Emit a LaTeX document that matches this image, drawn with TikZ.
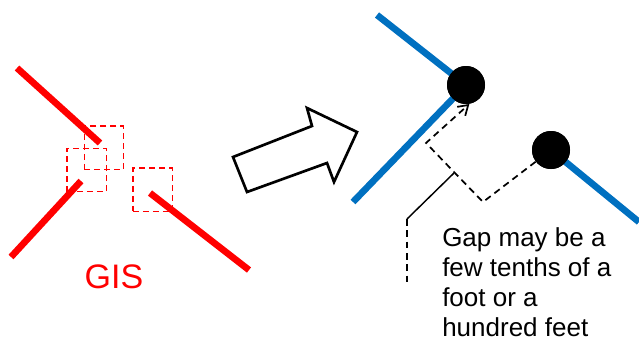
\documentclass[tikz,border=0pt]{standalone}
\usepackage{fontspec}
\setmainfont{Liberation Sans}
\usetikzlibrary{arrows.meta}
\definecolor{gisred}{RGB}{255,0,0}
\definecolor{netblue}{RGB}{0,112,192}

\begin{document}
\begin{tikzpicture}[x=0.75pt,y=0.75pt,yscale=-1,xscale=1,
  redline/.style={draw=gisred, line width=5pt},
  blueline/.style={draw=netblue, line width=5pt},
  snapbox/.style={draw=gisred, dash pattern={on 4.5pt off 3pt}, line width=1pt,
    minimum width=29.5pt, minimum height=32.5pt, inner sep=0pt},
  vertex/.style={circle, fill=black, minimum size=28.5pt, inner sep=0pt},
  gapline/.style={dash pattern={on 5pt off 3.5pt}, line width=1.3pt}]
\useasboundingbox (0,0) rectangle (639,340);

%Red GIS segments
\draw [redline] (17,68) -- (100,143) ;
\draw [redline] (81,181) -- (11,257) ;
\draw [redline] (150,193) -- (249,270) ;
%Snap boxes
\node [snapbox] (boxA) at (104,147.5) {} ;
\node [snapbox] (boxB) at (86.5,170) {} ;
\node [snapbox] (boxC) at (152.5,189.5) {} ;
% Text Node
\node [text=gisred, font=\fontsize{25.5pt}{30pt}\selectfont, anchor=base, inner sep=0pt] (gis) at (114,288) {GIS};

%Shape: Block arrow
\draw [line width=2pt, line join=miter] (233,157) -- (247,192) -- (327,163) -- (334,182) -- (357,132) -- (307,108) -- (312,126) -- cycle ;

%Blue network segments
\node [vertex] (c1) at (466,85) {} ;
\node [vertex] (c2) at (551,150) {} ;
\draw [blueline] (377,15) -- (c1.center) -- (353,202) ;
\draw [blueline] (c2.center) -- (639,222) ;
\node [vertex] at (c1) {} ;
\node [vertex] at (c2) {} ;

%Gap path
\coordinate (b1) at (483,202) ;
\coordinate (b2) at (426,143) ;
\draw [gapline, -{Straight Barb[length=7pt,width=9pt]}] (c2) -- (b1) -- (b2) -- (c1.-80) ;

%Callout
\coordinate (k1) at (454,173) ;
\coordinate (k2) at (407,219) ;
\coordinate (k3) at (407,286) ;
\draw [line width=1.1pt] (k1) -- (k2) ;
\draw [line width=1.1pt, dash pattern={on 5pt off 3.5pt}] (k2) -- (k3) ;

% Text Node
\node [anchor=north west, align=left, inner sep=0pt, font=\fontsize{19.5pt}{22.5pt}\selectfont] (note) at (442,227) {Gap may be a\\few tenths of a\\foot or a\\hundred feet};

\end{tikzpicture}
\end{document}
